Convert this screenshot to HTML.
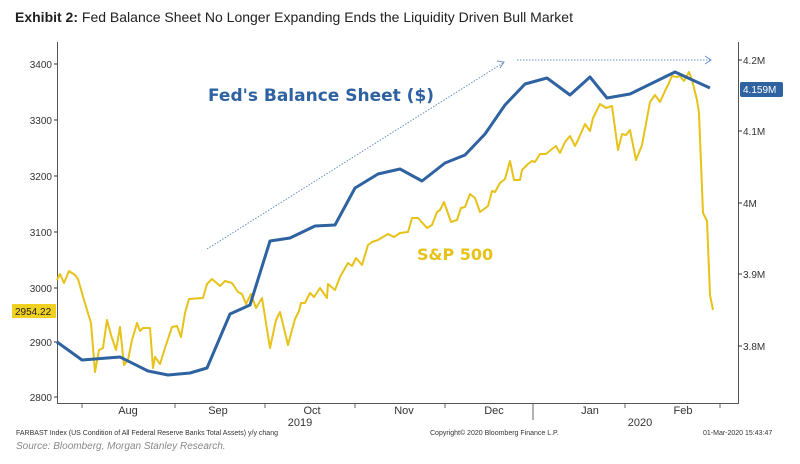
<!DOCTYPE html>
<html><head><style>
body{margin:0;background:#fff;width:800px;height:459px;overflow:hidden;font-family:"Liberation Sans",sans-serif}
</style></head><body>
<svg width="800" height="459" xmlns="http://www.w3.org/2000/svg" font-family="Liberation Sans, sans-serif">
<text x="15" y="22" font-size="14" fill="#222"><tspan font-weight="bold">Exhibit 2:</tspan> Fed Balance Sheet No Longer Expanding Ends the Liquidity Driven Bull Market</text>
<g stroke="#555" stroke-width="1">
<line x1="57.5" y1="42" x2="57.5" y2="404"/>
<line x1="57" y1="403.5" x2="739" y2="403.5"/>
<line x1="738.5" y1="42" x2="738.5" y2="404"/>
</g>
<g font-size="10" fill="#333" text-anchor="end">
<text x="52" y="68">3400</text><text x="52" y="124">3300</text><text x="52" y="180">3200</text><text x="52" y="236">3100</text><text x="52" y="292">3000</text><text x="52" y="346">2900</text><text x="52" y="401">2800</text>
</g>
<g stroke="#333"><line x1="54" y1="64" x2="57" y2="64"/><line x1="54" y1="120" x2="57" y2="120"/><line x1="54" y1="176" x2="57" y2="176"/><line x1="54" y1="232" x2="57" y2="232"/><line x1="54" y1="288" x2="57" y2="288"/><line x1="54" y1="342" x2="57" y2="342"/><line x1="54" y1="397" x2="57" y2="397"/>
<line x1="738" y1="60" x2="742" y2="60"/><line x1="738" y1="131" x2="742" y2="131"/><line x1="738" y1="203" x2="742" y2="203"/><line x1="738" y1="274" x2="742" y2="274"/><line x1="738" y1="346" x2="742" y2="346"/></g>
<g font-size="10" fill="#333">
<text x="743" y="64">4.2M</text><text x="743" y="135">4.1M</text><text x="743" y="207">4M</text><text x="743" y="278">3.9M</text><text x="743" y="350">3.8M</text>
</g>
<g stroke="#666"><line x1="82" y1="404" x2="82" y2="408"/><line x1="175" y1="404" x2="175" y2="408"/><line x1="265" y1="404" x2="265" y2="408"/><line x1="355" y1="404" x2="355" y2="408"/><line x1="445" y1="404" x2="445" y2="408"/><line x1="533" y1="404" x2="533" y2="420"/><line x1="625" y1="404" x2="625" y2="408"/><line x1="720" y1="404" x2="720" y2="408"/></g>
<g font-size="11" fill="#333" text-anchor="middle">
<text x="128" y="414">Aug</text><text x="218" y="414">Sep</text><text x="312" y="414">Oct</text><text x="404" y="414">Nov</text><text x="494" y="414">Dec</text><text x="590" y="414">Jan</text><text x="683" y="414">Feb</text>
<text x="300" y="426">2019</text><text x="640" y="426">2020</text>
</g>
<g font-size="7" fill="#333">
<text x="16" y="435">FARBAST Index (US Condition of All Federal Reserve Banks Total Assets) y/y chang</text>
<text x="430" y="435">Copyright© 2020 Bloomberg Finance L.P.</text>
<text x="703" y="435">01-Mar-2020 15:43:47</text>
</g>
<text x="16" y="449" font-size="10" font-style="italic" fill="#888">Source: Bloomberg, Morgan Stanley Research.</text>
<g stroke="#6a8fc0" stroke-width="1" stroke-dasharray="1.5,1.5" fill="none">
<line x1="207" y1="249" x2="503" y2="63"/>
<line x1="517" y1="60" x2="710" y2="60"/>
</g>
<path d="M497,61 L504,62 L500,68 M705,56 L711,60 L705,64" stroke="#6a8fc0" fill="none"/>
<polyline fill="none" stroke="#e6c21a" stroke-width="2" stroke-linejoin="round" points="57,280 60,274 64,283 69,271 75,275 78,279 84,300 91,323 95,372 99,350 103,348 107,320 111,335 116,350 120,327 124,365 128,360 132,340 135,330 137,323 140,331 143,328 150,328 153,368 155,357 160,364 165,348 172,327 177,326 181,337 185,313 189,299 203,298 207,284 212,279 220,286 225,281 232,283 238,292 242,294 246,304 251,294 256,308 262,298 270,348 276,320 280,312 288,345 295,319 299,311 301,303 305,303 310,293 314,297 320,288 327,298 328,284 335,290 340,277 348,263 352,266 356,258 362,265 368,245 372,242 378,240 388,234 394,237 400,233 408,232 412,218 418,218 427,228 432,225 437,212 440,210 444,202 451,222 457,220 461,208 465,207 470,194 475,198 480,212 488,206 492,191 495,192 500,183 505,179 510,161 514,180 520,180 522,170 528,164 532,161 535,162 540,154 546,154 552,149 556,146 560,153 565,142 570,136 575,146 578,140 585,124 590,131 593,118 600,104 606,108 612,106 618,150 622,134 626,135 630,130 636,160 642,145 650,102 655,95 660,102 665,91 668,85 672,76 677,77 680,76 684,81 689,72 692,80 697,100 699,113 703,213 705,217 707,221 710,295 713,310"/>
<polyline fill="none" stroke="#2e62a0" stroke-width="3" stroke-linejoin="round" points="57,342 82,360 120,357 148,371 168,375 190,373 207,368 230,314 250,305 270,241 290,238 315,226 335,225 355,188 378,174 400,169 422,181 445,163 465,155 485,134 505,105 525,84 547,78 570,95 590,77 607,98 630,94 675,72 710,88"/>
<text x="208" y="101" font-size="17" font-weight="bold" fill="#2e62a0" font-family="DejaVu Sans, sans-serif">Fed's Balance Sheet ($)</text>
<text x="417" y="260" font-size="16" font-weight="bold" fill="#e6c21a" font-family="DejaVu Sans, sans-serif">S&amp;P 500</text>
<rect x="12" y="304" width="44" height="14" fill="#f0d020"/>
<text x="15" y="315" font-size="10" fill="#222">2954.22</text>
<rect x="740" y="82" width="43" height="15" rx="2" fill="#2e62a0"/>
<text x="743" y="93" font-size="10" fill="#fff">4.159M</text>
</svg>
</body></html>
